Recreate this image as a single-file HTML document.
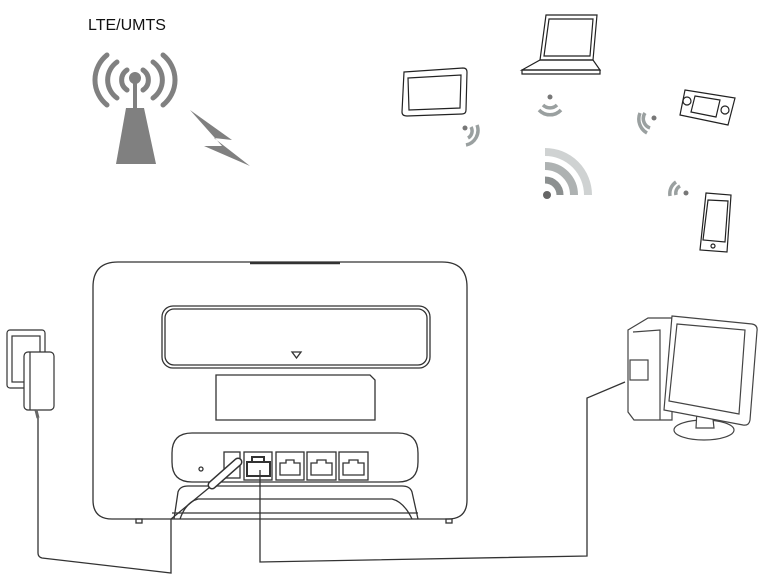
<!DOCTYPE html>
<html><head><meta charset="utf-8"><style>
html,body{margin:0;padding:0;background:#fff;width:767px;height:586px;overflow:hidden}
svg{display:block}
</style></head><body>
<svg width="767" height="586" viewBox="0 0 767 586" xmlns="http://www.w3.org/2000/svg">
<text x="88" y="30" font-family="Liberation Sans, sans-serif" font-size="16" fill="#111">LTE/UMTS</text>
<!-- tower -->
<g fill="none" stroke="#808080" stroke-width="5" stroke-linecap="round">
<path d="M127 70 A12 12 0 0 0 127 90"/><path d="M143 70 A12 12 0 0 1 143 90"/>
<path d="M117 62 A22 22 0 0 0 117 98"/><path d="M153 62 A22 22 0 0 1 153 98"/>
<path d="M107 55 A32 32 0 0 0 107 105"/><path d="M163 55 A32 32 0 0 1 163 105"/>
</g>
<circle cx="135" cy="78" r="6" fill="#808080"/>
<rect x="133" y="78" width="4" height="30" fill="#808080"/>
<polygon points="126,108 144,108 156,164 116,164" fill="#808080"/>
<polygon points="190,110 232,140 214,138 250,166 204,146 222,146" fill="#808080"/>
<!-- big wifi -->
<g fill="none" stroke-linecap="butt">
<path d="M545 152 A43 43 0 0 1 588 195" stroke-width="8" stroke="#cfd2d2"/>
<path d="M545 166 A29 29 0 0 1 574 195" stroke-width="8" stroke="#aeb2b2"/>
<path d="M545 180 A15 15 0 0 1 560 195" stroke-width="7" stroke="#8c9090"/>
</g>
<circle cx="547" cy="195" r="4" fill="#666"/>
<g fill="none" stroke="#9aa0a0" stroke-width="3.5">
<path d="M543 105 A10 10 0 0 0 557 105"/><path d="M539 110 A15 15 0 0 0 561 110"/>
<path d="M471 127 A8 8 0 0 1 468 138"/><path d="M477 125 A15 15 0 0 1 466 145"/>
<path d="M645 113 A10 10 0 0 0 650 128"/><path d="M640 113 A16 16 0 0 0 647 133"/>
<path d="M680 186 A8 8 0 0 0 676 195"/><path d="M676 182 A14 14 0 0 0 670 196"/>
</g>
<circle cx="550" cy="97" r="2.5" fill="#777"/><circle cx="465" cy="128" r="2.5" fill="#777"/>
<circle cx="654" cy="118" r="2.5" fill="#777"/><circle cx="686" cy="193" r="2.5" fill="#777"/>
<!-- devices -->
<g fill="none" stroke="#222" stroke-width="1.2">
<path d="M404 72 L463 68 Q467 68 467 72 L466 110 Q466 114 462 114 L407 116 Q402 116 402 112 Z"/>
<path d="M408 78 L461 75 L460 108 L409 110 Z"/>
<path d="M546 15 L597 15 L593 60 L540 60 Z"/><path d="M549 19 L593 19 L590 56 L544 56 Z"/>
<path d="M540 60 L593 60 L600 70 L522 70 Z"/><path d="M522 70 L600 70 L600 74 L522 74 Z"/>
<path d="M685 90 L735 98 L728 125 L680 115 Z"/><path d="M695 96 L720 100 L716 117 L691 112 Z"/>
<circle cx="687" cy="101" r="4"/><circle cx="725" cy="110" r="4"/>
<path d="M706 193 L731 195 L727 252 L700 250 Z"/><path d="M708 200 L728 201 L725 242 L703 240 Z"/>
<circle cx="713" cy="246" r="2"/>
</g>
<!-- plug -->
<g fill="#fff" stroke="#333" stroke-width="1.2">
<rect x="7" y="330" width="38" height="58" rx="3"/><rect x="12" y="336" width="28" height="46"/>
<rect x="24" y="352" width="30" height="58" rx="4"/>
<path d="M30 352 L30 410"/>
</g>
<path d="M36 410 L38 418" stroke="#666" stroke-width="3"/>
<!-- router -->
<g fill="none" stroke="#333" stroke-width="1.3">
<path d="M118 262 L442 262 Q467 262 467 287 L467 500 Q467 519 448 519 L112 519 Q93 519 93 500 L93 287 Q93 262 118 262 Z"/>
<path d="M250 263 L340 263" stroke-width="2.5"/>
<rect x="162" y="306" width="268" height="62" rx="11"/><rect x="165" y="309" width="262" height="56" rx="9"/>
<path d="M292 352 L301 352 L296.5 358 Z"/>
<path d="M216 375 L370 375 L375 380 L375 420 L216 420 Z"/>
<path d="M192 433 L398 433 Q418 433 418 453 L418 462 Q418 482 398 482 L192 482 Q172 482 172 462 L172 453 Q172 433 192 433 Z"/>
<circle cx="201" cy="469" r="2"/>
<rect x="224" y="452" width="16" height="26"/>
<rect x="244" y="452" width="28" height="28"/><rect x="276" y="452" width="28" height="28"/>
<rect x="307" y="452" width="29" height="28"/><rect x="339" y="452" width="29" height="28"/>
<path d="M280 475 L280 463 L286 463 L286 460 L294 460 L294 463 L300 463 L300 475 Z"/>
<path d="M311 475 L311 463 L317 463 L317 460 L326 460 L326 463 L332 463 L332 475 Z"/>
<path d="M343 475 L343 463 L349 463 L349 460 L358 460 L358 463 L364 463 L364 475 Z"/>
<rect x="247" y="462" width="23" height="14" stroke-width="2"/><path d="M252 462 L252 457 L264 457 L264 462" stroke-width="2"/>
<path d="M174 519 L178 492 Q180 486 188 486 L402 486 Q410 486 412 492 L418 519"/>
<path d="M180 519 Q186 502 198 499 L392 499 Q404 502 412 519"/>
<path d="M172 513 L418 513"/>
<rect x="136" y="519" width="6" height="4"/><rect x="446" y="519" width="6" height="4"/>
</g>
<!-- power connector -->
<path d="M212 485 L238 462" stroke="#333" stroke-width="9" stroke-linecap="round"/>
<path d="M212 485 L238 462" stroke="#fff" stroke-width="6" stroke-linecap="round"/>
<!-- cables -->
<g fill="none" stroke="#333" stroke-width="1.3">
<path d="M38 418 L38 553 Q38 557 42 558 L171 573 L171 519 L210 487"/>
<path d="M260 470 L260 562 L587 556 L587 398 L625 382"/>
</g>
<!-- PC -->
<g fill="#fff" stroke="#444" stroke-width="1.2">
<path d="M628 330 L648 318 L672 318 L672 420 L634 420 L628 412 Z"/>
<path d="M633 332 L660 330 L660 420"/>
<rect x="630" y="360" width="18" height="20"/>
<ellipse cx="704" cy="430" rx="30" ry="10"/>
<path d="M697 410 L712 410 L714 428 L696 428 Z"/>
<path d="M672 316 L752 324 Q758 325 757 331 L750 420 Q749 426 743 425 L664 410 Z"/>
<path d="M677 324 L745 330 L739 414 L669 401 Z"/>
</g>
</svg>
</body></html>
